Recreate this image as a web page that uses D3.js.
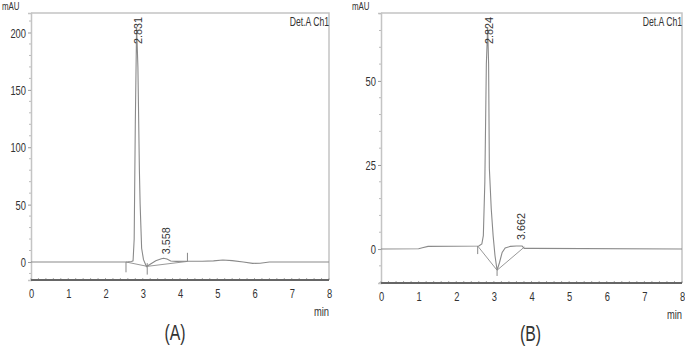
<!DOCTYPE html>
<html><head><meta charset="utf-8">
<script src="https://cdn.jsdelivr.net/npm/d3@7"></script>
<style>
html,body{margin:0;padding:0;background:#fff;}
svg text{font-family:'Liberation Sans',Arial,sans-serif;fill:#333;}
</style></head>
<body><svg id="c" width="685" height="348"></svg>
<script>
// ---------- data ----------
const xTickValues = [0,1,2,3,4,5,6,7,8];
const yTicksA = [0,50,100,150,200];
const yTicksB = [0,25,50];

const timeA   = [0,2.5,2.6,2.7,2.74,2.77,2.80,2.835,2.87,2.91,2.93,2.97,3.02,3.1,3.2,3.35,3.5,3.56,3.65,3.75,3.9,4.2,4.6,4.9,5.15,5.4,5.7,5.95,6.15,6.4,8];
const signalA = [0,0,0.1,0.4,1,20,120,205,170,80,50,12,2,-4,-2,1,2.8,3.2,2.6,0.8,0.5,0.6,0.6,1,1.7,1.2,0,-1.2,-1.1,0,0];
const baselineA = [[2.55,0],[3.12,-3.8],[4.2,0.5]];
const markersA = [[2.55,0,-9],[3.12,-1,-11],[4.2,0.5,8]];
const peakTimesA = [2.831,3.558];
const peakHeightsA = [205,3.2];
const peakLabelsA = ["2.831","3.558"];

const timeB   = [0,1.0,1.1,1.25,2.6,2.68,2.72,2.76,2.80,2.835,2.86,2.88,2.93,2.98,3.03,3.085,3.15,3.22,3.3,3.44,3.6,3.75,3.81,4.0,8];
const signalB = [0,0.1,0.4,0.8,0.9,1.5,4,20,55,66,55,24,12,4,-2,-6.3,-4,-1,0.3,0.8,0.9,0.9,0.2,0.2,0];
const baselineB = [[2.57,0.9],[3.085,-6.3],[3.81,0.6]];
const markersB = [[2.57,0.9,-1.5],[3.085,-6.3,-8]];
const peakTimesB = [2.824,3.662];
const peakHeightsB = [66,1.5];
const peakLabelsB = ["2.824","3.662"];

// ---------- drawing ----------
const svg = d3.select('#c');
const SX = 0.72;
function narrow(sel){
  sel.each(function(){
    const t = d3.select(this);
    const x = +t.attr('x') || 0;
    const prev = t.attr('transform') || '';
    t.attr('transform', `${prev} translate(${x},0) scale(${SX},1) translate(${-x},0)`);
  });
}

function panel(o){
  const g = svg.append('g');
  const x = d3.scaleLinear().domain([0,8]).range([o.l,o.r]);
  const y = d3.scaleLinear().domain(o.ydom).range([o.b,o.t]);

  g.append('path').attr('d',`M${o.l},${o.t}H${o.r}V${o.b}`)
    .attr('fill','none').attr('stroke','#c4c4c4').attr('stroke-width',1.5);

  const ya = g.append('g').attr('transform',`translate(${o.l},0)`)
    .call(d3.axisLeft(y).tickValues(o.yticks).tickSize(3).tickPadding(2).tickFormat(d3.format('d')));
  ya.select('.domain').attr('stroke','#c4c4c4').attr('stroke-width',1.5);
  ya.selectAll('.tick line').attr('stroke','#999');
  ya.selectAll('.tick text').attr('font-size',13).attr('fill','#333').attr('dy','0.36em')
    .style('font-family',"'Liberation Sans',Arial,sans-serif").call(narrow);
  const yminor = d3.range(Math.ceil(o.ydom[0]/o.ymin)*o.ymin, o.ydom[1], o.ymin)
    .filter(v=>!o.yticks.includes(v));
  g.append('g').selectAll('line').data(yminor).join('line')
    .attr('x1',o.l-2).attr('x2',o.l).attr('y1',d=>y(d)).attr('y2',d=>y(d))
    .attr('stroke','#bbb').attr('stroke-width',1);

  const xa = g.append('g').attr('transform',`translate(0,${o.b})`)
    .call(d3.axisBottom(x).tickValues(xTickValues).tickSize(0).tickPadding(o.xpad).tickFormat(d3.format('d')));
  xa.select('.domain').remove();
  xa.selectAll('.tick text').attr('font-size',13).attr('fill','#333')
    .style('font-family',"'Liberation Sans',Arial,sans-serif").call(narrow);
  const xminor = d3.range(0,8.001,0.2);
  g.append('g').selectAll('line').data(xminor).join('line')
    .attr('x1',d=>x(d)).attr('x2',d=>x(d)).attr('y1',o.b-2).attr('y2',o.b)
    .attr('stroke','#aaa').attr('stroke-width',1);
  g.append('line').attr('x1',o.l).attr('x2',o.r).attr('y1',o.b).attr('y2',o.b)
    .attr('stroke','#666').attr('stroke-width',2);

  const line = d3.line().x(d=>x(d[0])).y(d=>y(d[1]));
  g.append('path').attr('d',line(o.base)).attr('fill','none').attr('stroke','#999').attr('stroke-width',1);
  g.append('g').selectAll('line').data(o.markers).join('line')
    .attr('x1',d=>x(d[0])).attr('x2',d=>x(d[0])).attr('y1',d=>y(d[1])).attr('y2',d=>y(d[2]))
    .attr('stroke','#888').attr('stroke-width',1);

  const pts = o.time.map((t,i)=>[t,o.sig[i]]);
  g.append('path').attr('d',line(pts)).attr('fill','none').attr('stroke','#8a8a8a').attr('stroke-width',1.1);

  o.ptimes.forEach((t,i)=>{
    const len = 27;
    let by = y(o.pheights[i]) - 4;
    if (by - len < o.t + 3) by = o.t + 3 + len + 1;
    g.append('text').attr('transform',`translate(${x(t)+6},${by}) rotate(-90)`)
      .attr('font-size',10).attr('fill','#444').attr('textLength',len).attr('lengthAdjust','spacingAndGlyphs')
      .text(o.plabels[i]);
  });

  g.append('text').attr('x',o.l-29).attr('y',10).attr('font-size',11).text('mAU').call(narrow);
  g.append('text').attr('x',o.r).attr('y',26).attr('text-anchor','end').attr('font-size',12).text('Det.A Ch1').call(narrow);
  g.append('text').attr('x',o.r).attr('y',o.b+36).attr('text-anchor','end').attr('font-size',13).text('min').call(narrow);
  g.append('text').attr('x',(o.l+o.r)/2+o.capdx).attr('y',o.capy).attr('text-anchor','middle').attr('font-size',22).text(o.cap).call(narrow);
}

panel({l:31,r:329,t:13,b:280,ydom:[-15.7,217],yticks:yTicksA,ymin:10,xpad:9,
  time:timeA,sig:signalA,base:baselineA,markers:markersA,
  ptimes:peakTimesA,pheights:peakHeightsA,plabels:peakLabelsA,cap:'(A)',capy:340,capdx:-5});
panel({l:381,r:682,t:13,b:283,ydom:[-10.1,70.2],yticks:yTicksB,ymin:5,xpad:9,
  time:timeB,sig:signalB,base:baselineB,markers:markersB,
  ptimes:peakTimesB,pheights:peakHeightsB,plabels:peakLabelsB,cap:'(B)',capy:341,capdx:-1});
</script></body></html>
